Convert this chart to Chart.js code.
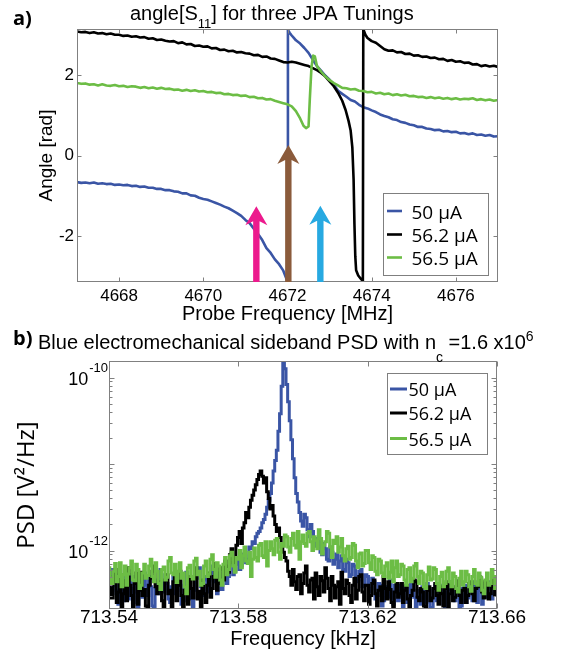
<!DOCTYPE html>
<html><head><meta charset="utf-8">
<script src="https://cdn.jsdelivr.net/npm/chart.js@4/dist/chart.umd.min.js"></script>
<style>
html,body{margin:0;padding:0;background:#fff;}
#wrap{position:relative;width:564px;height:652px;overflow:hidden;background:#fff;}
canvas{position:absolute;left:0;}
#ca{top:0;width:564px;height:328px;}
#cb{top:328px;width:564px;height:324px;}
</style></head><body>
<div id="wrap"><canvas id="ca" width="564" height="328"></canvas><canvas id="cb" width="564" height="324"></canvas></div>
<script>
// ---------- shared ----------
const seriesLabels = ['50 \u03bcA', '56.2 \u03bcA', '56.5 \u03bcA'];
const seriesColors = ['#3a55a5', '#000000', '#6cbd45'];

// ---------- panel a : angle[S11] (rad) vs probe frequency (MHz) ----------
const freqA50 = [4667.0,4667.1,4667.2,4667.3,4667.4,4667.5,4667.6,4667.7,4667.8,4667.9,4668.0,4668.1,4668.2,4668.3,4668.4,4668.5,4668.6,4668.7,4668.8,4668.9,
  4669.0,4669.1,4669.2,4669.3,4669.4,4669.5,4669.6,4669.7,4669.8,4669.9,4670.0,4670.1,4670.2,4670.3,4670.4,4670.5,4670.6,4670.7,4670.8,4670.9,
  4671.0,4671.1,4671.2,4671.3,4671.4,4671.5,4671.6,4671.7,4671.8,4671.9,4671.97,4672.0,
  4672.01,4672.05,4672.1,4672.15,4672.2,4672.3,4672.4,4672.5,4672.6,4672.7,4672.8,4672.9,4673.0,4673.1,4673.2,4673.3,4673.4,4673.5,4673.6,4673.7,4673.8,4673.9,
  4674.0,4674.1,4674.2,4674.3,4674.4,4674.5,4674.6,4674.7,4674.8,4674.9,4675.0,4675.1,4675.2,4675.3,4675.4,4675.5,4675.6,4675.7,4675.8,4675.9,
  4676.0,4676.1,4676.2,4676.3,4676.4,4676.5,4676.6,4676.7,4676.8,4676.9,4677.0];
const angleA50 = [-0.66,-0.68,-0.67,-0.69,-0.67,-0.70,-0.69,-0.71,-0.70,-0.73,-0.72,-0.74,-0.73,-0.76,-0.75,-0.78,-0.77,-0.80,-0.80,-0.83,
  -0.83,-0.86,-0.86,-0.89,-0.90,-0.94,-0.94,-0.99,-1.00,-1.05,-1.08,-1.10,-1.14,-1.18,-1.22,-1.27,-1.31,-1.37,-1.43,-1.50,
  -1.60,-1.68,-1.82,-1.95,-2.10,-2.30,-2.42,-2.58,-2.70,-2.86,-3.05,-3.14,
  3.12,3.05,2.98,2.92,2.86,2.78,2.67,2.55,2.38,2.22,2.10,1.98,1.88,1.76,1.61,1.53,1.46,1.38,1.34,1.26,1.20,1.17,
  1.12,1.08,1.02,0.98,0.95,0.90,0.88,0.83,0.81,0.77,0.75,0.71,0.71,0.67,0.66,0.63,0.64,0.60,0.61,0.58,
  0.59,0.55,0.56,0.53,0.55,0.51,0.52,0.49,0.51,0.47,0.48];

const freqA562 = [4667.0,4667.1,4667.2,4667.3,4667.4,4667.5,4667.6,4667.7,4667.8,4667.9,4668.0,4668.1,4668.2,4668.3,4668.4,4668.5,4668.6,4668.7,4668.8,4668.9,
  4669.0,4669.1,4669.2,4669.3,4669.4,4669.5,4669.6,4669.7,4669.8,4669.9,4670.0,4670.1,4670.2,4670.3,4670.4,4670.5,4670.6,4670.7,4670.8,4670.9,
  4671.0,4671.1,4671.2,4671.3,4671.4,4671.5,4671.6,4671.7,4671.8,4671.9,4672.0,4672.1,4672.2,4672.3,4672.4,4672.5,4672.6,4672.7,4672.8,
  4672.9,4673.0,4673.1,4673.2,4673.3,4673.38,4673.45,4673.5,4673.54,4673.57,4673.59,4673.61,4673.63,4673.68,4673.74,4673.79,
  4673.8,4673.85,4673.9,4674.0,4674.1,4674.2,4674.3,4674.4,4674.5,4674.6,4674.7,4674.8,4674.9,4675.0,4675.1,4675.2,4675.3,4675.4,4675.5,4675.6,4675.7,4675.8,4675.9,
  4676.0,4676.1,4676.2,4676.3,4676.4,4676.5,4676.6,4676.7,4676.8,4676.9,4677.0];
const angleA562 = [3.08,3.06,3.07,3.04,3.06,3.03,3.04,3.01,3.03,3.00,3.00,2.97,2.98,2.95,2.96,2.93,2.94,2.90,2.91,2.87,
  2.88,2.85,2.83,2.84,2.79,2.81,2.76,2.77,2.72,2.73,2.70,2.71,2.66,2.67,2.62,2.63,2.59,2.60,2.56,2.57,
  2.54,2.53,2.49,2.50,2.45,2.46,2.41,2.40,2.36,2.32,2.31,2.33,2.31,2.28,2.25,2.22,2.17,2.12,2.05,
  1.96,1.84,1.72,1.56,1.36,1.13,0.86,0.62,0.20,-0.60,-1.70,-2.50,-2.85,-2.98,-3.06,-3.12,
  3.14,3.00,2.92,2.84,2.80,2.72,2.64,2.60,2.61,2.56,2.57,2.52,2.53,2.48,2.49,2.45,2.46,2.42,2.43,2.39,2.40,2.35,2.37,
  2.33,2.34,2.30,2.31,2.26,2.27,2.22,2.24,2.21,2.23,2.20];

const freqA565 = [4667.0,4667.1,4667.2,4667.3,4667.4,4667.5,4667.6,4667.7,4667.8,4667.9,4668.0,4668.1,4668.2,4668.3,4668.4,4668.5,4668.6,4668.7,4668.8,4668.9,
  4669.0,4669.1,4669.2,4669.3,4669.4,4669.5,4669.6,4669.7,4669.8,4669.9,4670.0,4670.1,4670.2,4670.3,4670.4,4670.5,4670.6,4670.7,4670.8,4670.9,
  4671.0,4671.1,4671.2,4671.3,4671.4,4671.5,4671.6,4671.7,4671.8,4671.9,4672.0,
  4672.1,4672.2,4672.3,4672.38,4672.44,4672.5,4672.53,4672.57,4672.61,4672.65,4672.7,4672.8,4672.9,
  4673.0,4673.1,4673.2,4673.3,4673.4,4673.5,4673.6,4673.7,4673.8,4673.9,4674.0,4674.1,4674.2,4674.3,4674.4,4674.5,4674.6,4674.7,4674.8,4674.9,
  4675.0,4675.1,4675.2,4675.3,4675.4,4675.5,4675.6,4675.7,4675.8,4675.9,4676.0,4676.1,4676.2,4676.3,4676.4,4676.5,4676.6,4676.7,4676.8,4676.9,4677.0];
const angleA565 = [1.80,1.78,1.79,1.76,1.77,1.74,1.77,1.74,1.73,1.75,1.72,1.73,1.70,1.72,1.71,1.68,1.70,1.67,1.69,1.66,
  1.68,1.65,1.66,1.63,1.64,1.61,1.63,1.60,1.62,1.59,1.60,1.57,1.58,1.55,1.56,1.52,1.53,1.50,1.51,1.48,
  1.49,1.45,1.46,1.42,1.43,1.39,1.40,1.36,1.33,1.30,1.27,
  1.22,1.10,0.92,0.74,0.68,0.72,1.40,2.20,2.48,2.46,2.22,2.08,1.96,
  1.87,1.80,1.74,1.68,1.67,1.64,1.65,1.61,1.60,1.57,1.58,1.54,1.56,1.52,1.54,1.50,1.52,1.49,1.51,1.47,
  1.48,1.45,1.46,1.43,1.45,1.42,1.44,1.41,1.43,1.40,1.42,1.39,1.41,1.40,1.42,1.38,1.40,1.37,1.39,1.36,1.38];

const arrowFreq = [4671.26, 4672.02, 4672.78];
const arrowTip = [-1.26, 0.26, -1.25];
const arrowColors = ['#ec1a8d', '#8b5b3b', '#27a9e1'];

const xTicksA = [4668, 4670, 4672, 4674, 4676];
const yTicksA = [-2, 0, 2];

// ---------- panel b : PSD (log10 of V^2/Hz) vs frequency (kHz) ----------
const freqBStart = 713.54, freqBStep = 0.0005, freqBCount = 241;
const freqB = Array.from({length: freqBCount}, (_, i) => +(freqBStart + i * freqBStep).toFixed(4));

const log10Psd50 = [
 -12.35,-12.22,-12.50,-12.40,-12.28,-12.46,-12.62,-12.34,-12.40,-12.58,-12.24,-12.38,-12.56,-12.28,-12.44,-12.60,-12.30,-12.48,-12.68,-12.36,
 -12.38,-12.54,-12.26,-12.40,-12.52,-12.30,-12.42,-12.64,-12.72,-12.44,-12.34,-12.50,-12.22,-12.36,-12.48,-12.28,-12.38,-12.56,-12.60,-12.42,
 -12.30,-12.50,-12.46,-12.26,-12.36,-12.62,-12.58,-12.40,-12.25,-12.36,-12.44,-12.56,-12.70,-12.46,-12.32,-12.24,-12.20,-12.42,-12.52,-12.34,
 -12.30,-12.48,-12.42,-12.28,-12.18,-12.34,-12.36,-12.50,-12.26,-12.32,-12.45,-12.20,-12.22,-12.38,-12.30,-12.14,-12.16,-12.28,-12.24,-12.16,
 -12.12,-12.22,-12.18,-12.04,-12.06,-12.14,-12.10,-11.96,-11.98,-11.90,-11.92,-11.84,-11.80,-11.78,-11.74,-11.68,-11.64,-11.58,-11.50,-11.42,
 -11.34,-11.22,-11.08,-10.96,-10.84,-10.62,-10.42,-10.10,-9.80,-9.90,-10.08,-10.28,-10.50,-10.72,-10.94,-11.16,-11.34,-11.44,-11.56,-11.66,
 -11.72,-11.58,-11.62,-11.76,-11.84,-11.70,-11.78,-11.92,-11.95,-11.86,-11.90,-12.02,-12.05,-11.92,-11.98,-12.10,-12.12,-11.96,-12.02,-12.16,
 -12.10,-12.04,-12.20,-12.12,-12.06,-12.22,-12.24,-12.10,-12.14,-12.30,-12.28,-12.16,-12.18,-12.36,-12.34,-12.24,-12.22,-12.42,-12.40,-12.28,
 -12.30,-12.48,-12.44,-12.32,-12.36,-12.56,-12.52,-12.38,-12.40,-12.64,-12.58,-12.42,-12.44,-12.54,-12.34,-12.48,-12.62,-12.40,-12.46,-12.58,
 -12.40,-12.52,-12.66,-12.42,-12.44,-12.60,-12.56,-12.36,-12.38,-12.54,-12.70,-12.46,-12.48,-12.62,-12.42,-12.50,-12.60,-12.38,-12.46,-12.68,
 -12.66,-12.44,-12.40,-12.58,-12.52,-12.40,-12.44,-12.62,-12.72,-12.48,-12.46,-12.36,-12.38,-12.56,-12.58,-12.42,-12.48,-12.66,-12.64,-12.44,
 -12.40,-12.60,-12.55,-12.42,-12.44,-12.58,-12.36,-12.48,-12.60,-12.40,-12.46,-12.62,-12.38,-12.50,-12.54,-12.36,-12.42,-12.56,-12.50,-12.44,-12.38];
const log10Psd562 = [
 -12.30,-12.44,-12.55,-12.36,-12.22,-12.60,-12.48,-12.28,-12.70,-12.50,-12.35,-12.58,-12.20,-12.40,-12.52,-12.72,-12.38,-12.26,-12.62,-12.46,
 -12.25,-12.52,-12.45,-12.64,-12.75,-12.40,-12.32,-12.24,-12.18,-12.42,-12.50,-12.36,-12.40,-12.58,-12.66,-12.34,-12.28,-12.50,-12.46,-12.68,
 -12.36,-12.26,-12.58,-12.40,-12.24,-12.52,-12.70,-12.46,-12.42,-12.62,-12.30,-12.44,-12.55,-12.32,-12.20,-12.56,-12.47,-12.66,-12.34,-12.50,
 -12.60,-12.40,-12.26,-12.54,-12.44,-12.30,-12.15,-12.46,-12.38,-12.20,-12.22,-12.34,-12.12,-12.18,-12.25,-12.05,-11.98,-12.14,-12.08,-11.94,
 -11.85,-11.78,-11.92,-11.74,-11.68,-11.56,-11.62,-11.50,-11.42,-11.36,-11.30,-11.24,-11.18,-11.12,-11.08,-11.14,-11.22,-11.16,-11.32,-11.40,
 -11.52,-11.48,-11.60,-11.70,-11.78,-11.74,-11.85,-11.96,-12.02,-12.08,-12.12,-12.24,-12.30,-12.40,-12.22,-12.36,-12.45,-12.30,-12.28,-12.50,
 -12.38,-12.26,-12.18,-12.40,-12.48,-12.34,-12.32,-12.56,-12.26,-12.42,-12.52,-12.30,-12.35,-12.48,-12.20,-12.32,-12.44,-12.58,-12.30,-12.40,
 -12.55,-12.42,-12.36,-12.62,-12.25,-12.44,-12.50,-12.34,-12.38,-12.52,-12.60,-12.40,-12.32,-12.56,-12.46,-12.30,-12.28,-12.48,-12.58,-12.40,
 -12.40,-12.62,-12.52,-12.38,-12.34,-12.50,-12.64,-12.46,-12.42,-12.58,-12.30,-12.44,-12.56,-12.36,-12.45,-12.60,-12.66,-12.48,-12.38,-12.54,
 -12.50,-12.38,-12.60,-12.46,-12.40,-12.56,-12.70,-12.52,-12.46,-12.34,-12.36,-12.54,-12.58,-12.44,-12.48,-12.64,-12.68,-12.46,-12.42,-12.58,
 -12.55,-12.44,-12.38,-12.52,-12.62,-12.42,-12.50,-12.64,-12.44,-12.36,-12.66,-12.50,-12.40,-12.58,-12.54,-12.42,-12.35,-12.52,-12.60,-12.46,
 -12.44,-12.60,-12.52,-12.38,-12.36,-12.50,-12.58,-12.44,-12.42,-12.30,-12.32,-12.48,-12.55,-12.36,-12.40,-12.56,-12.50,-12.42,-12.34,-12.52,-12.46];
const log10Psd565 = [
 -12.20,-12.32,-12.38,-12.24,-12.15,-12.36,-12.30,-12.14,-12.42,-12.28,-12.18,-12.40,-12.27,-12.20,-12.12,-12.34,-12.35,-12.16,-12.22,-12.44,
 -12.40,-12.26,-12.16,-12.32,-12.29,-12.18,-12.10,-12.30,-12.36,-12.14,-12.24,-12.38,-12.45,-12.22,-12.19,-12.34,-12.31,-12.12,-12.08,-12.26,
 -12.28,-12.16,-12.37,-12.24,-12.14,-12.32,-12.26,-12.42,-12.50,-12.20,-12.17,-12.30,-12.33,-12.12,-12.09,-12.28,-12.24,-12.40,-12.38,-12.18,
 -12.12,-12.30,-12.27,-12.10,-12.05,-12.22,-12.31,-12.14,-12.18,-12.34,-12.40,-12.16,-12.08,-12.28,-12.22,-12.06,-12.02,-12.18,-12.25,-12.08,
 -12.10,-12.00,-12.20,-12.06,-11.96,-12.12,-12.15,-12.02,-12.30,-12.10,-11.97,-12.08,-12.12,-11.94,-11.92,-12.06,-12.08,-11.90,-12.18,-12.00,
 -11.90,-11.98,-12.05,-11.88,-11.86,-12.02,-12.10,-11.92,-11.95,-11.82,-11.84,-11.96,-12.02,-11.86,-11.80,-11.94,-11.97,-11.78,-12.10,-11.90,
 -11.82,-11.92,-11.95,-11.80,-11.78,-11.90,-12.00,-11.84,-11.88,-11.98,-11.76,-11.86,-12.04,-11.94,-11.90,-11.78,-11.80,-11.96,-12.08,-11.88,
 -11.92,-11.84,-12.02,-11.96,-11.86,-12.06,-12.12,-11.98,-11.95,-12.10,-12.08,-11.92,-11.94,-12.12,-12.20,-12.04,-12.03,-12.18,-12.15,-12.00,
 -12.00,-12.14,-12.22,-12.06,-12.08,-12.24,-12.28,-12.10,-12.12,-12.26,-12.30,-12.18,-12.14,-12.32,-12.25,-12.12,-12.36,-12.20,-12.12,-12.30,
 -12.28,-12.16,-12.18,-12.34,-12.40,-12.22,-12.20,-12.36,-12.32,-12.18,-12.15,-12.30,-12.38,-12.24,-12.26,-12.42,-12.44,-12.28,-12.19,-12.34,
 -12.33,-12.20,-12.22,-12.38,-12.46,-12.30,-12.25,-12.42,-12.38,-12.24,-12.20,-12.36,-12.42,-12.26,-12.30,-12.44,-12.48,-12.32,-12.24,-12.40,
 -12.36,-12.24,-12.28,-12.42,-12.47,-12.30,-12.22,-12.38,-12.40,-12.26,-12.31,-12.46,-12.50,-12.34,-12.26,-12.40,-12.38,-12.22,-12.30,-12.44,-12.44];

const xTicksB = [713.54, 713.58, 713.62, 713.66];
const yMajorExpB = [-13, -12, -11, -10];
const yLabelExpB = [-10, -12];

// ---------- helpers ----------
const FONT = '"Liberation Sans", Arial, Helvetica, sans-serif';
const FONT2 = '"Open Sans", "Noto Sans", sans-serif';
Chart.defaults.font.family = FONT;
Chart.defaults.color = '#000';

const pairs = (xs, ys) => xs.map((x, i) => ({x, y: ys[i]}));

function drawRich(ctx, x, y, parts) {
  let cx = x;
  ctx.textAlign = 'left';
  ctx.textBaseline = 'alphabetic';
  for (const p of parts) {
    ctx.font = p.font;
    ctx.fillText(p.t, cx, y + (p.dy || 0));
    cx += ctx.measureText(p.t).width;
  }
}

const frameTicks = {
  id: 'frameTicks',
  afterDatasetsDraw(chart, args, o) {
    const {ctx, chartArea: a, scales: {x, y}} = chart;
    const L = Math.round(a.left) + 0.5, R = Math.round(a.right) - 0.5, T = Math.round(a.top) + 0.5, B = Math.round(a.bottom) - 0.5;
    ctx.save();
    ctx.strokeStyle = o.color; ctx.lineWidth = 1;
    ctx.beginPath();
    for (const v of o.xTicks) {
      const px = Math.round(x.getPixelForValue(v)) + 0.5;
      ctx.moveTo(px, B); ctx.lineTo(px, B - o.len);
      ctx.moveTo(px, T); ctx.lineTo(px, T + o.len);
    }
    for (const v of o.yTicks) {
      const py = Math.round(y.getPixelForValue(v)) + 0.5;
      if (py < T - 1 || py > B + 1) continue;
      ctx.moveTo(L, py); ctx.lineTo(L + o.len, py);
      ctx.moveTo(R, py); ctx.lineTo(R - o.len, py);
    }
    for (const v of (o.yMinor || [])) {
      const py = Math.round(y.getPixelForValue(v)) + 0.5;
      if (py < T || py > B) continue;
      ctx.moveTo(L, py); ctx.lineTo(L + o.minorLen, py);
      ctx.moveTo(R, py); ctx.lineTo(R - o.minorLen, py);
    }
    ctx.stroke();
    ctx.strokeRect(L, T, R - L, B - T);
    ctx.restore();
  }
};

const boxLegend = {
  id: 'boxLegend',
  afterDraw(chart, args, o) {
    const {ctx} = chart;
    ctx.save();
    ctx.fillStyle = '#fff';
    ctx.fillRect(o.box[0], o.box[1], o.box[2] - o.box[0], o.box[3] - o.box[1]);
    ctx.strokeStyle = '#7f7f7f'; ctx.lineWidth = 1;
    ctx.strokeRect(o.box[0] + 0.5, o.box[1] + 0.5, o.box[2] - o.box[0], o.box[3] - o.box[1]);
    chart.data.datasets.forEach((ds, i) => {
      if (!ds.label) return;
      const yy = o.rows[i];
      ctx.strokeStyle = ds.borderColor; ctx.lineWidth = o.lw;
      ctx.beginPath(); ctx.moveTo(o.line[0], yy); ctx.lineTo(o.line[1], yy); ctx.stroke();
      ctx.fillStyle = '#000'; ctx.font = o.font; ctx.textAlign = 'left'; ctx.textBaseline = 'alphabetic';
      ctx.fillText(ds.label, o.textX, yy + o.baseOff);
    });
    ctx.restore();
  }
};

const titles = {
  id: 'titles',
  afterDraw(chart, args, o) {
    const {ctx} = chart;
    ctx.save();
    ctx.fillStyle = '#000';
    for (const item of o.items) drawRich(ctx, item.x, item.y, item.parts);
    ctx.restore();
  }
};

// ---------- panel a ----------
const arrows = {
  id: 'arrows',
  afterDatasetsDraw(chart) {
    const {ctx, chartArea: a, scales: {x, y}} = chart;
    ctx.save();
    arrowFreq.forEach((f, i) => {
      const px = x.getPixelForValue(f), tip = y.getPixelForValue(arrowTip[i]), base = a.bottom;
      const hw = 11, hl = 19, notch = 4, sw = 3.2;
      ctx.fillStyle = arrowColors[i];
      ctx.beginPath();
      ctx.moveTo(px - sw, base);
      ctx.lineTo(px - sw, tip + hl - notch);
      ctx.lineTo(px - hw, tip + hl);
      ctx.lineTo(px, tip);
      ctx.lineTo(px + hw, tip + hl);
      ctx.lineTo(px + sw, tip + hl - notch);
      ctx.lineTo(px + sw, base);
      ctx.closePath(); ctx.fill();
    });
    ctx.restore();
  }
};

const lineA = (i, xs, ys, order) => ({
  label: seriesLabels[i], data: pairs(xs, ys), borderColor: seriesColors[i], backgroundColor: seriesColors[i],
  borderWidth: 2.6, pointRadius: 0, tension: 0, borderJoinStyle: 'round', order
});

new Chart(document.getElementById('ca'), {
  type: 'line',
  data: { datasets: [
    lineA(0, freqA50, angleA50, 2),
    lineA(1, freqA562, angleA562, 1),
    lineA(2, freqA565, angleA565, 0)
  ]},
  options: {
    responsive: false, animation: false, devicePixelRatio: 1,
    layout: { padding: { left: 0, right: 66, top: 29, bottom: 0 } },
    plugins: {
      legend: { display: false }, tooltip: { enabled: false },
      frameTicks: { color: '#808080', len: 4, xTicks: xTicksA, yTicks: yTicksA },
      boxLegend: { box: [383, 193, 488, 275], rows: [211, 234.5, 257.5], line: [387, 402], lw: 2.6, textX: 411.5, baseOff: 7.5, font: '19px ' + FONT2 },
      titles: { items: [
        { x: 13, y: 24.5, parts: [{ t: 'a)', font: 'bold 20px ' + FONT2 }] },
        { x: 130, y: 20, parts: [
          { t: 'angle[S', font: '20px ' + FONT },
          { t: '11', font: '13px ' + FONT, dy: 8 },
          { t: '] for three JPA Tunings', font: '20px ' + FONT } ] }
      ]}
    },
    scales: {
      x: {
        type: 'linear', min: 4667, max: 4677,
        afterBuildTicks: s => { s.ticks = xTicksA.map(v => ({ value: v })); },
        afterFit: s => { s.height = 46; },
        grid: { display: false, drawTicks: false }, border: { display: false },
        ticks: { font: { family: FONT, size: 17 }, color: '#000', padding: 4, maxRotation: 0, autoSkip: false, callback: v => String(v) },
        title: { display: true, text: 'Probe Frequency [MHz]', font: { family: FONT, size: 20 }, color: '#000', padding: { top: 0, bottom: 1.5 } }
      },
      y: {
        type: 'linear', min: -Math.PI, max: Math.PI,
        afterBuildTicks: s => { s.ticks = yTicksA.map(v => ({ value: v })); },
        afterFit: s => { s.width = 77; },
        grid: { display: false, drawTicks: false }, border: { display: false },
        ticks: { font: { family: FONT, size: 17 }, color: '#000', padding: 3, callback: v => String(v) },
        title: { display: true, text: 'Angle [rad]', font: { family: FONT, size: 19 }, color: '#000', padding: { top: 35, bottom: 0 } }
      }
    }
  },
  plugins: [frameTicks, arrows, boxLegend, titles]
});

// ---------- panel b ----------
const yLabelsB = {
  id: 'yLabelsB',
  afterDraw(chart) {
    const {ctx, chartArea: a, scales: {y}} = chart;
    ctx.save(); ctx.fillStyle = '#000'; ctx.textBaseline = 'alphabetic'; ctx.textAlign = 'right';
    for (const e of yLabelExpB) {
      const py = y.getPixelForValue(Math.pow(10, e));
      ctx.font = '13px ' + FONT;
      const sup = String(e);
      const w = ctx.measureText(sup).width;
      ctx.fillText(sup, a.left - 1, py - 6);
      ctx.font = '18px ' + FONT;
      ctx.fillText('10', a.left - 2 - w, py + 7.5);
    }
    ctx.restore();
  }
};

const yMinorB = [];
for (const e of yMajorExpB) for (let k = 2; k <= 9; k++) yMinorB.push(k * Math.pow(10, e));

const lineB = (i, ys, order) => ({
  label: seriesLabels[i], data: freqB.map((f, j) => ({ x: f, y: Math.pow(10, ys[j]) })),
  borderColor: seriesColors[i], backgroundColor: seriesColors[i],
  borderWidth: 3, pointRadius: 0, tension: 0, stepped: 'middle', clip: 0, order
});

new Chart(document.getElementById('cb'), {
  type: 'line',
  data: { datasets: [
    lineB(0, log10Psd50, 2),
    lineB(1, log10Psd562, 1),
    lineB(2, log10Psd565, 0)
  ]},
  options: {
    responsive: false, animation: false, devicePixelRatio: 1,
    layout: { padding: { left: 0, right: 67, top: 33, bottom: 0 } },
    plugins: {
      legend: { display: false }, tooltip: { enabled: false },
      frameTicks: { color: '#808080', len: 5, minorLen: 3, xTicks: xTicksB, yTicks: yMajorExpB.map(e => Math.pow(10, e)), yMinor: yMinorB },
      boxLegend: { box: [387, 373 - 328, 487, 454 - 328], rows: [389 - 328, 413 - 328, 438.5 - 328], line: [390, 407], lw: 3, textX: 408.5, baseOff: 7, font: '18px ' + FONT2 },
      titles: { items: [
        { x: 13, y: 17, parts: [{ t: 'b)', font: 'bold 20px ' + FONT2 }] },
        { x: 38, y: 21, parts: [
          { t: 'Blue electromechanical sideband PSD with n', font: '20px ' + FONT },
          { t: 'c', font: '14px ' + FONT, dy: 13 },
          { t: ' =1.6 x10', font: '20px ' + FONT },
          { t: '6', font: '14px ' + FONT, dy: -8 } ] }
      ]}
    },
    scales: {
      x: {
        type: 'linear', min: 713.54, max: 713.66,
        afterBuildTicks: s => { s.ticks = xTicksB.map(v => ({ value: v })); },
        afterFit: s => { s.height = 43; },
        grid: { display: false, drawTicks: false }, border: { display: false },
        ticks: { font: { family: FONT, size: 19, lineHeight: 1 }, color: '#000', padding: -1, maxRotation: 0, autoSkip: false, callback: v => v.toFixed(2) },
        title: { display: true, text: 'Frequency [kHz]', font: { family: FONT, size: 20 }, color: '#000', padding: { top: 0, bottom: 1 } }
      },
      y: {
        type: 'logarithmic', min: Math.pow(10, -12.676), max: Math.pow(10, -9.809),
        afterFit: s => { s.width = 109; },
        grid: { display: false, drawTicks: false }, border: { display: false },
        ticks: { display: false },
        title: { display: true, text: 'PSD [V\u00b2/Hz]', font: { family: FONT2, size: 24 }, color: '#000', padding: { top: 13, bottom: 0 } }
      }
    }
  },
  plugins: [frameTicks, yLabelsB, boxLegend, titles]
});
</script>
</body></html>
